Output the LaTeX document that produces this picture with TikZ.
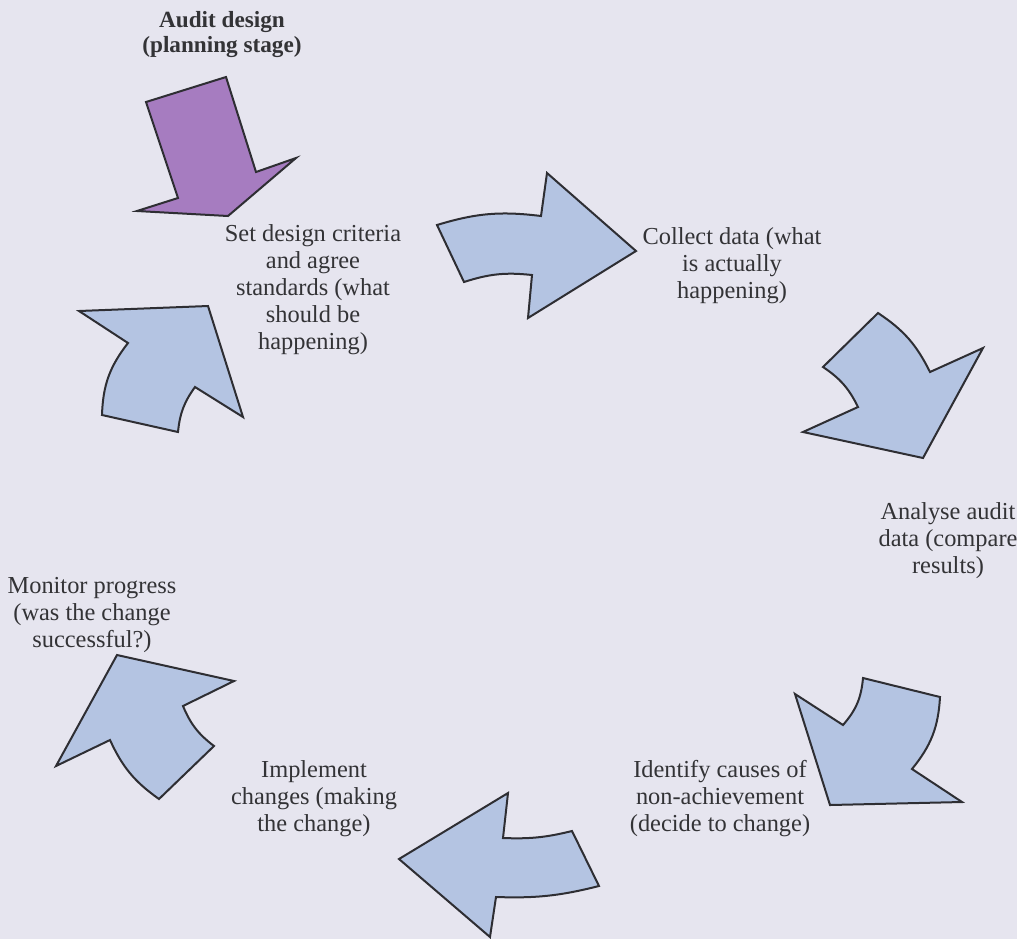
\documentclass[tikz,border=0pt]{standalone}
\usepackage{fontspec}
\setmainfont{Liberation Serif}
\definecolor{bgc}{HTML}{E6E5EF}
\definecolor{arrowblue}{HTML}{B4C4E2}
\definecolor{arrowpurple}{HTML}{A67CC0}
\definecolor{edgec}{HTML}{2E2E33}
\definecolor{txt}{HTML}{333336}
\tikzset{
  cyc/.style={draw=edgec, fill=arrowblue, line width=1pt, line join=miter},
  cycstart/.style={cyc, fill=arrowpurple},
  lbl/.style={align=center, text=txt, inner sep=0pt, font=\fontsize{12.2}{13.5}\selectfont},
  lblb/.style={lbl, font=\fontsize{11.6}{12.5}\selectfont\bfseries}
}
\begin{document}
\begin{tikzpicture}[x=0.5pt,y=-0.5pt]
\fill[bgc] (0,0) rectangle (1017,939);
\useasboundingbox (0,0) rectangle (1017,939);
% purple start arrow
\draw[cycstart] (146,102) -- (226,77) -- (256,172) -- (296,158) -- (228,216) -- (137,211) -- (178,198) -- cycle;
% arrow B (top, to the right)
\draw[cyc] (437,225) to[bend left=12] (541,216) -- (547,173) -- (636,251) -- (528,318) -- (532,275) to[bend right=12] (464,282) -- cycle;
% arrow C (right, down)
\draw[cyc] (878,313) to[bend left=15] (930,372) -- (983,348) -- (923,458) -- (803,432) -- (858,407) to[bend right=15] (823,367) -- cycle;
% arrow D (lower right)
\draw[cyc] (795,694) -- (843,725) to[bend right=18] (863,678) -- (940,697) to[bend left=18] (912,769) -- (962,802) -- (830,805) -- cycle;
% arrow E (bottom, to the left)
\draw[cyc] (399,859) -- (508,793) -- (503,838) to[bend right=8] (572,831) -- (599,886) to[bend left=8] (496,897) -- (490,937) -- cycle;
% arrow F (lower left, up)
\draw[cyc] (117,655) -- (234,681) -- (183,706) to[bend right=15] (214,746) -- (159,799) to[bend left=15] (110,740) -- (56,766) -- cycle;
% arrow G (left, up-right)
\draw[cyc] (79,311) -- (208,306) -- (243,417) -- (195,387) to[bend right=15] (178,432) -- (102,415) to[bend left=18] (128,343) -- cycle;
% labels
\node[lblb] (audit) at (222,35) {Audit design\\(planning stage)};
\node[lbl] (set) at (313,290) {Set design criteria\\and agree\\standards (what\\should be\\happening)};
\node[lbl] (collect) at (732,266) {Collect data (what\\is actually\\happening)};
\node[lbl] (analyse) at (948,541) {Analyse audit\\data (compare\\results)};
\node[lbl] (identify) at (720,799) {Identify causes of\\non-achievement\\(decide to change)};
\node[lbl] (implement) at (314,799) {Implement\\changes (making\\the change)};
\node[lbl] (monitor) at (92,615) {Monitor progress\\(was the change\\successful?)};
\end{tikzpicture}
\end{document}
